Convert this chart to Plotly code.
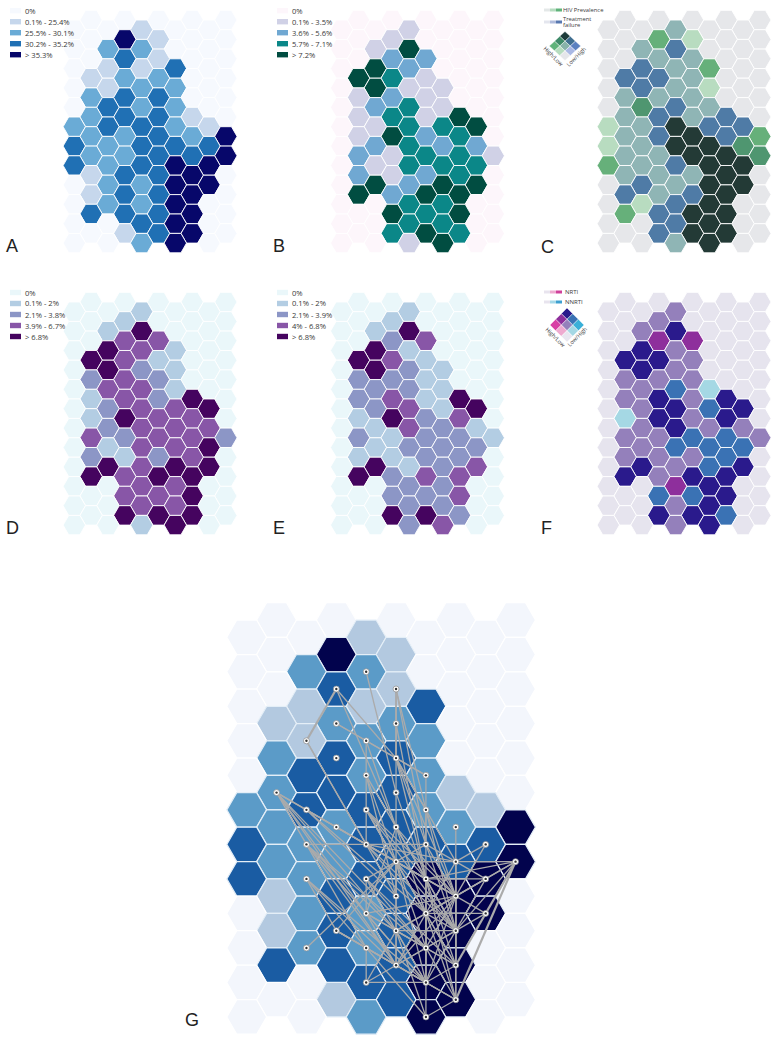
import plotly.graph_objects as go

W, H = 778, 1050

# Class of every map cell, row by row. Rows 0-23; even rows hold columns 1,3,5,7,9, odd rows columns 0,2,4,6,8.
MAP_A = [[0,0,0,0,0],[0,0,1,0,0],[0,4,1,0,0],[0,2,2,0,0],[0,3,1,0,0],[0,1,1,3,0],[1,2,2,0,0],[0,1,2,2,0],
         [2,3,3,0,0],[0,3,2,2,0],[2,3,3,1,0],[2,3,3,2,1],[2,2,3,2,4],[3,2,3,3,3],[2,2,3,3,4],[3,2,3,4,4],
         [1,3,3,4,0],[0,2,2,4,4],[1,3,3,4,0],[0,2,2,4,0],[3,3,3,4,0],[0,0,3,4,0],[0,1,3,4,0],[0,0,2,4,0]]
MAP_B = [[0,0,0,0,0],[0,0,1,0,0],[0,1,0,0,0],[0,1,4,0,0],[0,2,2,0,0],[0,4,2,0,0],[4,3,1,0,0],[0,4,1,1,0],
         [1,2,1,0,0],[0,2,3,1,0],[1,3,1,4,0],[0,1,3,3,4],[1,4,2,3,0],[0,2,3,2,2],[2,1,3,3,1],[0,1,3,3,3],
         [2,1,2,3,0],[0,4,2,4,4],[4,2,4,4,0],[0,0,3,3,0],[0,4,3,4,0],[0,0,3,3,0],[0,3,4,3,0],[0,0,1,4,0]]
MAP_C = [[0,0,0,0,0],[0,0,1,0,0],[0,4,5,0,0],[0,1,2,0,0],[0,1,1,0,0],[0,2,1,4,0],[2,2,1,0,0],[0,2,1,5,0],
         [1,1,1,0,0],[0,6,2,1,0],[1,2,1,2,0],[5,1,3,2,2],[1,2,3,2,4],[5,1,3,3,6],[1,1,3,3,6],[4,1,2,3,3],
         [1,1,1,3,0],[0,2,1,3,3],[2,1,2,3,0],[0,5,2,3,0],[4,2,3,3,0],[0,0,2,3,0],[0,2,3,3,0],[0,0,1,3,0]]
MAP_D = [[0,0,0,0,0],[0,0,1,0,0],[0,1,0,0,0],[0,1,4,0,0],[0,3,3,0,0],[0,4,3,1,0],[4,3,1,0,0],[0,4,2,1,0],
         [2,3,2,0,0],[0,3,3,1,0],[1,3,2,4,0],[0,2,3,3,4],[1,4,3,3,0],[0,2,3,3,3],[3,2,3,3,2],[0,1,3,3,4],
         [2,1,2,3,0],[0,4,3,4,4],[4,3,4,4,0],[0,0,3,3,0],[0,3,3,4,0],[0,0,3,3,0],[0,4,4,4,0],[0,0,1,4,0]]
MAP_E = [[0,0,0,0,0],[0,0,1,0,0],[0,1,0,0,0],[0,1,4,0,0],[0,2,3,0,0],[0,4,1,0,0],[4,3,1,0,0],[0,4,2,1,0],
         [2,2,1,0,0],[0,2,2,1,0],[2,3,1,4,0],[0,2,3,1,4],[1,4,2,3,0],[0,1,3,2,1],[2,1,2,2,1],[0,1,2,2,2],
         [1,1,2,2,0],[0,4,1,2,3],[4,2,3,3,0],[0,0,2,2,0],[0,2,2,3,0],[0,0,2,2,0],[0,4,4,2,0],[0,0,2,3,0]]
MAP_F = [[0,0,0,0,0],[0,0,1,0,0],[0,1,0,0,0],[0,1,2,0,0],[0,4,4,0,0],[0,2,1,0,0],[2,2,1,0,0],[0,2,1,0,0],
         [1,1,1,0,0],[0,1,3,5,0],[1,2,1,2,0],[0,1,2,3,2],[5,2,1,2,0],[0,1,2,1,1],[1,1,3,3,1],[0,1,3,3,3],
         [1,1,1,3,0],[0,2,1,3,2],[2,1,2,2,0],[0,0,4,2,0],[0,3,3,2,0],[0,0,1,2,0],[0,2,2,3,0],[0,0,1,2,0]]
MAP_G = MAP_A

COLORS_A = ["#f6f9fe", "#c6d7ec", "#6aabd6", "#2070b4", "#07076a"]
COLORS_B = ["#fdf6fb", "#d0d1e6", "#70a8d2", "#0b8788", "#014d41"]
COLORS_C = ["#e6e7ea", "#8fb5b5", "#4f7ba6", "#233a36", "#66b07a", "#b8dcc0", "#4f9670"]
COLORS_D = ["#eaf7fa", "#b3cde3", "#8c96c6", "#8856a7", "#45045f"]
COLORS_F = ["#e6e4ee", "#9480bb", "#2a1a8c", "#3a72b4", "#8e2f9c", "#a5d8e4"]
COLORS_G = ["#f3f6fc", "#b3c9e0", "#5b9bc8", "#1a5ca3", "#02034d"]

LABELS_A = ["0%", "0.1% - 25.4%", "25.5% - 30.1%", "30.2% - 35.2%", "> 35.3%"]
LABELS_B = ["0%", "0.1% - 3.5%", "3.6% - 5.6%", "5.7% - 7.1%", "> 7.2%"]
LABELS_D = ["0%", "0.1% - 2%", "2.1% - 3.8%", "3.9% - 6.7%", "> 6.8%"]
LABELS_E = ["0%", "0.1% - 2%", "2.1% - 3.9%", "4% - 6.8%", "> 6.8%"]

BIV_C = [["#1d3c3a", "#3f6e90", "#5a80c0"], ["#3e8a68", "#88b3aa", "#a9b8e4"], ["#5fb37a", "#b5dcbf", "#e5e6ea"]]
BIV_F = [["#2a1a8c", "#3a72b4", "#3ab0d8"], ["#8e2f9c", "#9480bb", "#a5d8e4"], ["#d83fa5", "#eeaad0", "#e8e6f0"]]
BAR_C1 = ["#e4e8e8", "#b5dcbf", "#5fb37a"]
BAR_C2 = ["#e4e6ee", "#b0bcdc", "#5878b0"]
BAR_F1 = ["#e8e4ee", "#eeaad0", "#d0409a"]
BAR_F2 = ["#e8e4ee", "#a5d8e8", "#3da0d0"]

# Network on panel G: nodes and links as (column, row) of the map cells
NODES = [(4,3),(3,4),(5,4),(3,6),(5,6),(2,7),(4,7),(3,8),(5,8),(4,9),(6,9),(5,10),(1,10),(2,11),(4,11),(6,11),
         (3,12),(5,12),(7,12),(2,13),(4,13),(6,13),(8,13),(5,14),(7,14),(9,14),(2,15),(4,15),(6,15),(8,15),
         (5,16),(7,16),(4,17),(6,17),(8,17),(3,18),(5,18),(7,18),(2,19),(4,19),(6,19),(5,20),(7,20),(4,21),(6,21),(7,22),(6,23)]
LINKS_THICK = [((3,4),(2,7)), ((9,14),(7,22)), ((9,14),(7,20))]
LINKS = [
 ((1,10),(2,11)),((1,10),(3,12)),((1,10),(4,17)),((1,10),(5,18)),((1,10),(5,20)),((1,10),(6,19)),((1,10),(4,19)),
 ((2,11),(3,12)),((2,11),(4,13)),((2,11),(5,16)),((2,11),(6,17)),((3,12),(4,13)),((3,12),(5,14)),((3,12),(6,15)),
 ((2,13),(4,13)),((2,13),(4,17)),((2,13),(5,18)),((2,13),(6,19)),((2,13),(5,20)),((2,13),(6,21)),
 ((2,15),(4,19)),((2,15),(5,20)),((2,15),(6,21)),((2,15),(3,18)),
 ((4,11),(4,13)),((4,11),(5,14)),((4,11),(6,15)),((4,11),(6,17)),((4,11),(7,18)),((4,11),(7,16)),
 ((5,10),(5,12)),((5,12),(5,14)),((5,10),(6,15)),((6,11),(6,13)),((6,13),(7,16)),((6,13),(7,18)),((6,13),(5,14)),((6,13),(7,14)),
 ((4,13),(6,13)),((4,13),(5,14)),((4,13),(6,15)),((4,13),(7,16)),((4,13),(7,18)),((4,13),(6,17)),
 ((5,14),(9,14)),((5,14),(5,16)),((5,14),(5,18)),((5,14),(5,20)),((5,14),(6,15)),((5,14),(7,16)),((5,14),(6,17)),
 ((5,14),(7,18)),((5,14),(6,19)),((5,14),(7,20)),((5,14),(6,21)),((5,14),(2,19)),((5,14),(3,18)),((4,15),(5,14)),
 ((4,15),(4,17)),((4,15),(6,19)),((4,15),(7,20)),((4,15),(6,21)),
 ((6,15),(8,15)),((6,15),(6,17)),((6,15),(6,19)),((6,15),(6,21)),((6,15),(7,16)),((6,15),(7,18)),((6,15),(7,20)),((6,15),(7,22)),
 ((8,15),(7,16)),((8,15),(7,18)),((8,15),(6,17)),((8,15),(7,14)),((8,13),(7,16)),
 ((7,14),(7,16)),((7,14),(7,18)),((7,14),(7,20)),((7,14),(6,17)),
 ((7,16),(6,17)),((7,16),(7,18)),((7,16),(7,20)),((7,16),(6,19)),((7,16),(8,17)),((7,16),(5,18)),((7,16),(6,21)),((7,16),(5,20)),((7,16),(4,17)),
 ((8,17),(7,18)),((8,17),(6,17)),
 ((6,17),(7,18)),((6,17),(6,19)),((6,17),(7,20)),((6,17),(6,21)),((6,17),(5,18)),((6,17),(5,20)),((6,17),(7,22)),
 ((7,18),(7,20)),((7,18),(6,19)),((7,18),(6,21)),((7,18),(5,18)),((7,18),(5,20)),((7,18),(7,22)),
 ((6,19),(7,20)),((6,19),(6,21)),((6,19),(5,20)),((6,19),(7,22)),((6,19),(5,18)),
 ((5,18),(5,20)),((5,18),(6,21)),((5,18),(7,20)),((5,18),(4,21)),((5,18),(6,23)),
 ((5,20),(6,21)),((5,20),(4,21)),((5,20),(7,22)),((4,21),(6,21)),((4,19),(6,21)),((4,19),(4,21)),((4,19),(5,20)),((4,19),(6,23)),
 ((6,21),(7,22)),((6,21),(6,23)),((6,21),(7,20)),((7,20),(7,22)),((7,22),(6,23)),
 ((3,18),(4,19)),((3,18),(6,21)),((3,18),(7,22)),((3,18),(5,20)),((4,17),(5,18)),((4,17),(6,19)),((4,17),(6,21)),((4,17),(5,20)),
 ((7,12),(7,14)),((8,13),(7,14)),((9,14),(8,15)),((9,14),(7,16)),((9,14),(7,18)),((9,14),(6,15)),
 ((4,9),(4,11)),((4,9),(5,14)),((4,9),(5,16)),((4,9),(6,15)),((4,7),(4,9)),((4,7),(5,12)),((3,6),(5,8)),((3,6),(6,9)),
 ((3,4),(5,8)),((3,4),(5,12)),((2,7),(4,13)),((2,7),(5,16)),
 ((5,4),(5,6)),((5,4),(5,8)),((5,4),(6,11)),((5,4),(5,10)),((5,4),(6,13)),((5,6),(5,8)),((5,6),(6,15)),
 ((5,8),(6,9)),((5,8),(6,11)),((5,8),(7,14)),((5,8),(7,16)),((5,8),(6,13)),((5,8),(6,15)),
 ((6,9),(6,11)),((6,11),(7,16)),((6,11),(7,18)),((6,11),(6,15)),((4,3),(5,10)),
 ((5,12),(6,15)),((5,12),(6,17)),((5,12),(7,16)),((5,12),(7,18)),((5,12),(4,17)),((4,13),(7,14)),
]

FONT = "Open Sans"
fig = go.Figure()
annotations, shapes = [], []


def fx(px):
    return px / W


def fy(py):
    return 1 - py / H


def panel(idx, grid, colors, x0, dx, y0, dy, size, line_color, line_width):
    sfx = "" if idx == 1 else str(idx)
    fig.update_layout({
        "xaxis" + sfx: dict(domain=[fx(x0 - dx), fx(x0 + 10 * dx)], range=[-1, 10], visible=False, fixedrange=True,
                            anchor="y" + sfx),
        "yaxis" + sfx: dict(domain=[fy(y0 + 24 * dy), fy(y0 - dy)], range=[24, -1], visible=False, fixedrange=True,
                            anchor="x" + sfx),
    })
    xs, ys, cs, ls = [], [], [], []
    for r, row in enumerate(grid):
        cols = range(1, 10, 2) if r % 2 == 0 else range(0, 10, 2)
        for c, v in zip(cols, row):
            xs.append(c)
            ys.append(r)
            cs.append(colors[v])
            ls.append("#ffffff" if v == 0 else line_color)
    fig.add_trace(go.Scatter(x=xs, y=ys, mode="markers", xaxis="x" + sfx, yaxis="y" + sfx, cliponaxis=False,
                             hoverinfo="skip", showlegend=False,
                             marker=dict(symbol="hexagon2", size=size, color=cs,
                                         line=dict(color=ls, width=line_width))))
    return "x" + sfx, "y" + sfx


def legend(labels, colors, x, y0, step=11):
    for i, (t, c) in enumerate(zip(labels, colors)):
        y = y0 + i * step
        shapes.append(dict(type="rect", xref="paper", yref="paper", x0=fx(x), x1=fx(x + 11), y0=fy(y - 2.7),
                           y1=fy(y + 2.7), fillcolor=c, line_width=0))
        annotations.append(dict(xref="paper", yref="paper", x=fx(x + 12.5), y=fy(y), text=t, showarrow=False,
                                xanchor="left", yanchor="middle", font=dict(family=FONT, size=7.6, color="#3a3a3a")))


def letter(t, x, y):
    annotations.append(dict(xref="paper", yref="paper", x=fx(x), y=fy(y), text=t, showarrow=False, xanchor="center",
                            yanchor="middle", font=dict(family="Liberation Sans", size=18, color="#222222")))


def bar(colors, x, y):
    for i, c in enumerate(colors):
        shapes.append(dict(type="rect", xref="paper", yref="paper", x0=fx(x + i * 6), x1=fx(x + (i + 1) * 6),
                           y0=fy(y - 1.5), y1=fy(y + 1.5), fillcolor=c, line_width=0))


def small_text(t, x, y, angle=0, anchor="left", size=5.8):
    annotations.append(dict(xref="paper", yref="paper", x=fx(x), y=fy(y), text=t, showarrow=False, xanchor=anchor,
                            yanchor="middle", textangle=angle, font=dict(family=FONT, size=size, color="#3a3a3a")))


def diamond(grid, cx, cy, hw, hh):
    w, h = hw / 3, hh / 3
    for j in range(3):
        for i in range(3):
            mx, my = cx + (i - j) * w, cy + (i + j - 2) * h
            pts = [(mx, my - h), (mx + w, my), (mx, my + h), (mx - w, my)]
            path = "M " + " L ".join(f"{fx(a):.5f} {fy(b):.5f}" for a, b in pts) + " Z"
            shapes.append(dict(type="path", xref="paper", yref="paper", path=path, fillcolor=grid[j][i],
                               line=dict(color="#ffffff", width=0.4)))


DX, DY = 16.84, 9.7
panel(1, MAP_A, COLORS_A, 74.3, DX, 20.0, DY, 22.4, "#ffffff", 0.9)
panel(2, MAP_B, COLORS_B, 341.7, DX, 20.0, DY, 22.4, "#ffffff", 0.9)
panel(3, MAP_C, COLORS_C, 608.3, DX, 20.0, DY, 22.4, "#ffffff", 0.9)
panel(4, MAP_D, COLORS_D, 74.3, DX, 302.0, DY, 22.4, "#ffffff", 0.9)
panel(5, MAP_E, COLORS_D, 341.7, DX, 302.0, DY, 22.4, "#ffffff", 0.9)
panel(6, MAP_F, COLORS_F, 608.3, DX, 302.0, DY, 22.4, "#ffffff", 0.9)
gx, gy = panel(7, MAP_G, COLORS_G, 246.7, 29.87, 620.0, 17.26, 39.8, "#e4eef7", 1.2)


def link_xy(links):
    xs, ys = [], []
    for (a, b) in links:
        xs += [a[0], b[0], None]
        ys += [a[1], b[1], None]
    return xs, ys


for links, width in ((LINKS, 1.3), (LINKS_THICK, 2.2)):
    lx, ly = link_xy(links)
    fig.add_trace(go.Scatter(x=lx, y=ly, mode="lines", xaxis=gx, yaxis=gy, hoverinfo="skip", showlegend=False,
                             line=dict(color="#ababab", width=width)))
nx, ny = [n[0] for n in NODES], [n[1] for n in NODES]
fig.add_trace(go.Scatter(x=nx, y=ny, mode="markers", xaxis=gx, yaxis=gy, hoverinfo="skip", showlegend=False,
                         marker=dict(symbol="circle", size=6, color="#ffffff", line=dict(color="#8a8a8a", width=0.7))))
fig.add_trace(go.Scatter(x=nx, y=ny, mode="markers", xaxis=gx, yaxis=gy, hoverinfo="skip", showlegend=False,
                         marker=dict(symbol="circle", size=2.4, color="#333333")))

legend(LABELS_A, COLORS_A, 10, 10.7)
legend(LABELS_B, COLORS_B, 277, 10.7)
legend(LABELS_D, COLORS_D, 10, 292.5)
legend(LABELS_E, COLORS_D, 277, 292.5)
letter("A", 12, 246)
letter("B", 279, 246)
letter("C", 547, 247)
letter("D", 12, 528)
letter("E", 279, 528)
letter("F", 546, 528)
letter("G", 192, 1020)

bar(BAR_C1, 544, 10)
small_text("HIV Prevalence", 561, 10)
bar(BAR_C2, 544, 22)
small_text("Treatment", 561, 18.5)
small_text("failure", 561, 25.5)
diamond(BIV_C, 565, 46, 15.7, 14.5)
small_text("High/Low", 553, 56, angle=45, anchor="center", size=5.6)
small_text("Low/High", 576, 57, angle=-45, anchor="center", size=5.6)

bar(BAR_F1, 544, 292)
small_text("NRTI", 563, 292, size=6)
bar(BAR_F2, 544, 302)
small_text("NNRTI", 563, 302, size=6)
diamond(BIV_F, 567, 325, 17, 17)
small_text("High/Low", 555, 337, angle=45, anchor="center", size=5.6)
small_text("Low/High", 577, 337, angle=-45, anchor="center", size=5.6)

fig.update_layout(width=W, height=H, autosize=False, margin=dict(l=0, r=0, t=0, b=0), paper_bgcolor="#ffffff",
                  plot_bgcolor="rgba(0,0,0,0)", showlegend=False, annotations=annotations, shapes=shapes,
                  font=dict(family=FONT))
fig.write_html("out.html", config={"displayModeBar": False}, post_script="document.body.style.margin='0';")
